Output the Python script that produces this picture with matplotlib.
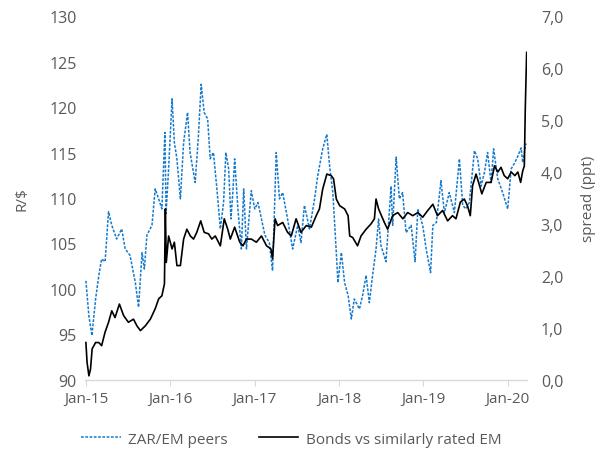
import matplotlib
matplotlib.use("Agg")
import matplotlib.pyplot as plt
import matplotlib.dates as mdates
import pandas as pd

plt.rcParams['font.family'] = ['Open Sans', 'DejaVu Sans']

# ZAR/EM peers (left axis, R/$ index)
zar_dates = [
    "2015-01-01", "2015-01-14", "2015-01-27", "2015-02-12", "2015-02-26", "2015-03-10",
    "2015-03-25", "2015-04-09", "2015-04-23", "2015-05-14", "2015-06-05", "2015-06-20",
    "2015-07-11", "2015-08-03", "2015-08-17", "2015-09-01", "2015-09-11", "2015-09-22",
    "2015-10-14", "2015-10-28", "2015-11-12", "2015-11-26", "2015-12-09", "2015-12-14",
    "2015-12-25", "2016-01-09", "2016-01-19", "2016-01-30", "2016-02-14", "2016-02-28",
    "2016-03-16", "2016-03-27", "2016-04-18", "2016-05-02", "2016-05-14", "2016-05-27",
    "2016-06-11", "2016-06-22", "2016-07-06", "2016-07-20", "2016-08-05", "2016-08-19",
    "2016-08-29", "2016-09-10", "2016-09-20", "2016-09-28", "2016-10-06", "2016-10-20",
    "2016-11-04", "2016-11-14", "2016-11-26", "2016-12-17", "2017-01-01", "2017-01-15",
    "2017-01-30", "2017-02-14", "2017-03-05", "2017-03-19", "2017-04-04", "2017-04-18",
    "2017-05-02", "2017-05-23", "2017-06-14", "2017-07-06", "2017-07-20", "2017-08-04",
    "2017-08-26", "2017-09-17", "2017-10-01", "2017-10-22", "2017-11-09", "2017-11-21",
    "2017-12-05", "2017-12-20", "2017-12-27", "2018-01-11", "2018-01-25", "2018-02-09",
    "2018-02-23", "2018-03-08", "2018-03-30", "2018-04-13", "2018-04-28", "2018-05-12",
    "2018-05-26", "2018-06-10", "2018-06-21", "2018-07-01", "2018-07-23", "2018-08-14",
    "2018-08-21", "2018-09-05", "2018-09-19", "2018-10-03", "2018-10-18", "2018-11-09",
    "2018-11-26", "2018-12-08", "2018-12-29", "2019-01-13", "2019-02-01", "2019-02-11",
    "2019-02-26", "2019-03-18", "2019-04-02", "2019-04-23", "2019-05-15", "2019-06-06",
    "2019-06-20", "2019-07-04", "2019-07-19", "2019-08-10", "2019-08-24", "2019-09-08",
    "2019-09-22", "2019-10-06", "2019-10-21", "2019-11-01", "2019-11-19", "2019-12-10",
    "2020-01-01", "2020-01-16", "2020-02-01", "2020-02-14", "2020-02-28", "2020-03-06",
    "2020-03-20",
]
zar_values = [
    100.9, 97.0, 94.9, 98.9, 101.5, 103.3,
    103.0, 108.5, 107.0, 105.5, 106.6, 104.4,
    103.7, 100.7, 98.0, 104.0, 102.2, 105.9,
    107.0, 111.0, 109.9, 108.8, 117.2, 108.3,
    113.2, 120.9, 116.1, 114.3, 109.9, 116.1,
    119.4, 115.0, 111.7, 116.8, 122.5, 119.4,
    118.7, 114.3, 115.0, 111.3, 106.6, 109.5,
    115.0, 113.2, 107.7, 110.6, 114.3, 108.8,
    104.4, 111.0, 104.4, 110.8, 108.8, 109.5,
    107.7, 105.9, 105.1, 102.0, 115.0, 109.9,
    110.6, 107.7, 104.4, 107.0, 105.1, 109.2,
    106.6, 109.9, 112.5, 115.4, 117.0, 113.5,
    110.6, 104.0, 100.7, 104.0, 100.7, 99.3,
    96.7, 98.9, 97.8, 99.3, 101.5, 98.5,
    101.5, 104.4, 107.7, 104.8, 103.0, 111.3,
    107.0, 114.5, 109.9, 110.6, 106.2, 107.0,
    103.0, 108.8, 107.0, 104.4, 101.8, 107.0,
    107.3, 111.9, 108.4, 110.6, 108.4, 114.3,
    109.2, 108.8, 109.5, 115.2, 114.3, 111.3,
    112.8, 115.0, 111.7, 115.4, 112.1, 110.6,
    108.8, 113.2, 113.9, 114.6, 115.5, 113.9,
    116.0,
]

# Bonds vs similarly rated EM (right axis, spread in ppt)
bond_dates = [
    "2015-01-01", "2015-01-06", "2015-01-14", "2015-01-21", "2015-01-28", "2015-02-12",
    "2015-02-26", "2015-03-10", "2015-03-25", "2015-04-09", "2015-04-23", "2015-05-07",
    "2015-05-26", "2015-06-13", "2015-07-04", "2015-07-26", "2015-08-10", "2015-08-25",
    "2015-09-15", "2015-10-07", "2015-10-28", "2015-11-12", "2015-11-26", "2015-12-07",
    "2015-12-11", "2015-12-15", "2015-12-25", "2016-01-09", "2016-01-19", "2016-01-30",
    "2016-02-14", "2016-02-28", "2016-03-13", "2016-03-28", "2016-04-11", "2016-04-25",
    "2016-05-12", "2016-05-27", "2016-06-15", "2016-06-29", "2016-07-14", "2016-08-05",
    "2016-08-22", "2016-09-06", "2016-09-17", "2016-10-06", "2016-10-28", "2016-11-11",
    "2016-11-26", "2016-12-17", "2017-01-08", "2017-01-30", "2017-02-21", "2017-03-12",
    "2017-03-19", "2017-03-30", "2017-04-10", "2017-05-02", "2017-05-23", "2017-06-08",
    "2017-06-29", "2017-07-20", "2017-08-12", "2017-09-03", "2017-09-24", "2017-10-08",
    "2017-10-22", "2017-11-09", "2017-11-28", "2017-12-08", "2017-12-20", "2018-01-04",
    "2018-01-25", "2018-02-09", "2018-02-16", "2018-03-01", "2018-03-22", "2018-04-06",
    "2018-04-28", "2018-05-19", "2018-06-03", "2018-06-10", "2018-06-21", "2018-07-16",
    "2018-07-30", "2018-08-21", "2018-09-12", "2018-10-04", "2018-10-25", "2018-11-16",
    "2018-12-08", "2018-12-29", "2019-01-20", "2019-02-11", "2019-03-03", "2019-03-25",
    "2019-04-16", "2019-05-07", "2019-05-22", "2019-06-10", "2019-06-27", "2019-07-11",
    "2019-07-23", "2019-08-02", "2019-08-17", "2019-09-01", "2019-09-11", "2019-09-30",
    "2019-10-21", "2019-11-05", "2019-11-19", "2019-12-03", "2019-12-17", "2020-01-01",
    "2020-01-16", "2020-02-01", "2020-02-14", "2020-02-26", "2020-03-06", "2020-03-13",
    "2020-03-17", "2020-03-23",
]
bond_values = [
    0.72, 0.34, 0.08, 0.21, 0.60, 0.72,
    0.72, 0.66, 0.92, 1.11, 1.33, 1.20,
    1.46, 1.24, 1.11, 1.17, 1.04, 0.95,
    1.04, 1.17, 1.37, 1.56, 1.62, 1.85,
    3.29, 2.26, 2.77, 2.52, 2.65, 2.20,
    2.20, 2.71, 2.90, 2.77, 2.71, 2.84,
    3.06, 2.84, 2.81, 2.71, 2.77, 2.58,
    3.10, 2.90, 2.71, 2.94, 2.65, 2.58,
    2.71, 2.71, 2.65, 2.77, 2.58, 2.52,
    2.33, 3.10, 2.97, 3.03, 2.84, 2.77,
    3.10, 2.84, 2.97, 2.94, 3.16, 3.29,
    3.67, 3.96, 3.93, 3.87, 3.48, 3.35,
    3.29, 3.16, 2.77, 2.74, 2.58, 2.77,
    2.90, 3.00, 3.10, 3.48, 3.29, 3.03,
    2.90, 3.16, 3.22, 3.10, 3.22, 3.16,
    3.22, 3.13, 3.26, 3.38, 3.16, 3.26,
    3.06, 3.16, 3.10, 3.42, 3.48, 3.35,
    3.16, 3.74, 3.96, 3.74, 3.58, 3.80,
    3.80, 4.12, 4.00, 4.09, 3.93, 3.87,
    4.00, 3.93, 4.00, 3.80, 4.02, 4.12,
    5.20, 6.30,
]

left_ticks = [90, 95, 100, 105, 110, 115, 120, 125, 130]
right_ticks = [0.0, 1.0, 2.0, 3.0, 4.0, 5.0, 6.0, 7.0]
right_tick_labels = ["0,0", "1,0", "2,0", "3,0", "4,0", "5,0", "6,0", "7,0"]
year_ticks = ["2015-01-01", "2016-01-01", "2017-01-01", "2018-01-01", "2019-01-01", "2020-01-01"]

zd = pd.to_datetime(zar_dates)
bd = pd.to_datetime(bond_dates)

grey = "#595959"
blue = "#1479cc"

fig = plt.figure(figsize=(6.07, 4.56), dpi=100)
ax = fig.add_axes([0.140, 0.1645, 0.728, 0.7982])
ax2 = ax.twinx()

l1, = ax.plot(zd, zar_values, color=blue, lw=1.1, linestyle=(0, (1.8, 1.0)),
              label="ZAR/EM peers")
l2, = ax2.plot(bd, bond_values, color="black", lw=1.2, label="Bonds vs similarly rated EM")

ax.set_ylim(90, 130)
ax.set_yticks(left_ticks)
ax2.set_ylim(0, 7)
ax2.set_yticks(right_ticks)
ax2.set_yticklabels(right_tick_labels)

ax.set_xlim(pd.Timestamp("2014-12-28"), pd.Timestamp("2020-03-24"))
ax.set_xticks(pd.to_datetime(year_ticks))
ax.xaxis.set_major_formatter(mdates.DateFormatter("%b-%y"))

for a in (ax, ax2):
    for s in ("top", "left", "right"):
        a.spines[s].set_visible(False)
    a.spines["bottom"].set_color("#d9d9d9")
    a.spines["bottom"].set_linewidth(1.0)
ax2.spines["bottom"].set_visible(False)

ax.tick_params(axis="y", length=0, labelsize=11.5, labelcolor=grey, pad=6)
ax2.tick_params(axis="y", length=0, labelsize=11.5, labelcolor=grey, pad=10)
ax.tick_params(axis="x", length=4, color="#d9d9d9", labelsize=11, labelcolor=grey, pad=4)

ax.set_ylabel("R/$", fontsize=11, color=grey, labelpad=14)
ax2.set_ylabel("spread (ppt)", fontsize=11, color=grey, labelpad=13)

fig.legend(handles=[l1, l2], loc="center", bbox_to_anchor=(0.48, 0.035), ncol=2,
           frameon=False, fontsize=11, labelcolor=grey, handlelength=2.6,
           columnspacing=2.0, handletextpad=0.5)

fig.savefig("out.png", dpi=100)
